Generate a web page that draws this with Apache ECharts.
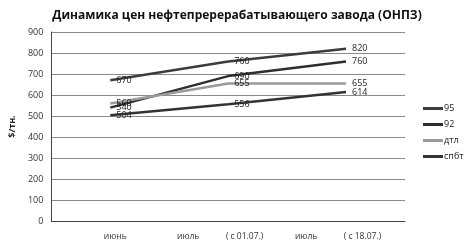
<!DOCTYPE html>
<html><head><meta charset="utf-8">
<script src="https://cdn.jsdelivr.net/npm/echarts@6/dist/echarts.min.js"></script>
<style>html,body{margin:0;padding:0;background:#fff}#c{width:467px;height:243px}</style>
</head><body><div id="c"></div>
<script>
const categories = ["июнь", "июль            ( с 01.07.)", "июль            ( с 18.07.)"];
const s95 = [670, 760, 820];
const s92 = [540, 690, 760];
const sDtl = [560, 655, 655];
const sSpbt = [504, 556, 614];
const yTicks = {min: 0, max: 900, interval: 100};

const chart = echarts.init(document.getElementById('c'), null, {renderer: 'canvas'});
const font = "'Open Sans', 'DejaVu Sans', sans-serif";
function ser(name, data, color, w) {
  return {
    name, type: 'line', data, symbol: 'circle', symbolSize: 0, showSymbol: true, smooth: false,
    lineStyle: {color, width: w}, itemStyle: {color},
    label: {show: true, position: 'right', distance: 6, offset: [0, 1], color: '#222', fontSize: 9, fontFamily: font},
    labelLayout: {hideOverlap: false},
    z: 3
  };
}
const xData = categories.map((c, i) => i === 0
  ? {value: c, textStyle: {padding: [0, 0, 0, 10]}}
  : {value: c, textStyle: {padding: [0, 16, 0, 0]}});
chart.setOption({
  animation: false,
  title: {
    text: 'Динамика цен нефтепререрабатывающего завода (ОНПЗ)',
    left: 232, top: 5, textAlign: 'center',
    textStyle: {fontSize: 12, fontWeight: 'bold', color: '#111', fontFamily: font}
  },
  grid: {left: 46, right: 62, top: 32, bottom: 22},
  legend: {
    orient: 'vertical', left: 418, top: 99, itemGap: 7, itemWidth: 20, itemHeight: 3,
    icon: 'rect',
    textStyle: {fontSize: 9, color: '#222', fontFamily: font, padding: [0, 0, 0, -4]},
    data: ['95', '92', 'дтл', 'спбт']
  },
  xAxis: {
    type: 'category', data: xData, boundaryGap: true,
    axisLine: {show: true, lineStyle: {color: '#444', width: 1}},
    axisTick: {show: false},
    axisLabel: {fontSize: 8.5, color: '#333', fontFamily: font, margin: 11}
  },
  yAxis: {
    type: 'value', min: yTicks.min, max: yTicks.max, interval: yTicks.interval,
    name: '$/тн.', nameLocation: 'middle', nameGap: 28, nameRotate: 90,
    nameTextStyle: {fontSize: 9, fontWeight: 'bold', color: '#222', fontFamily: font},
    axisLine: {show: true, lineStyle: {color: '#444', width: 1}},
    axisTick: {show: false},
    axisLabel: {fontSize: 9, color: '#333', fontFamily: font, margin: 8},
    splitLine: {show: true, lineStyle: {color: '#8a8a8a', width: 1}}
  },
  series: [
    ser('95', s95, '#3c3c3c', 2.5),
    ser('92', s92, '#2e2e2e', 2.5),
    ser('дтл', sDtl, '#9a9a9a', 2.5),
    ser('спбт', sSpbt, '#333333', 2.5)
  ]
});
</script></body></html>
